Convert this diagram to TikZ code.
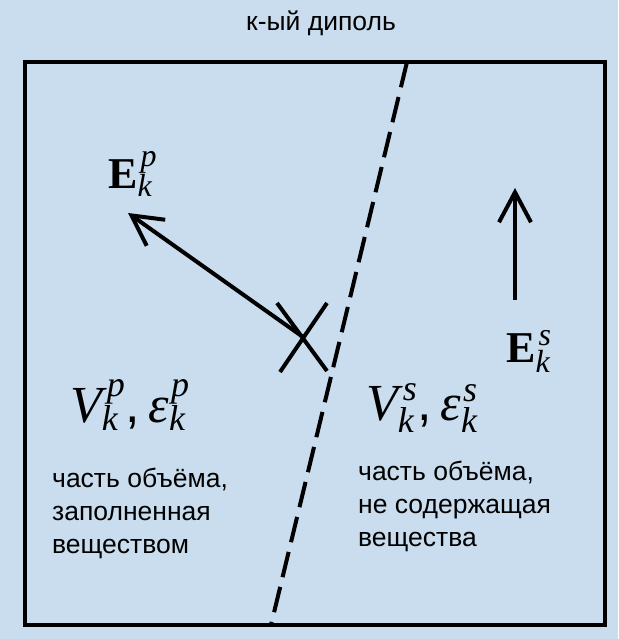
\RequirePackage{fix-cm}
\documentclass[tikz,border=0pt]{standalone}
\usepackage[no-math]{fontspec}
\setmainfont{Liberation Sans}
\newfontfamily\mserif{Liberation Serif}
\newcommand\mvar[1]{\mbox{\mserif\itshape #1}}
\newcommand\mscr[1]{\mbox{\mserif\itshape\fontsize{36}{36}\selectfont #1}}
\newcommand\mvec[1]{\mbox{\mserif\bfseries #1}}
\newcommand\mscrE[1]{\mbox{\mserif\itshape\fontsize{32}{32}\selectfont #1}}
\usetikzlibrary{arrows.meta}
\definecolor{bgblue}{RGB}{201,221,238}
\tikzset{
  frame/.style={line width=4pt, line join=miter},
  divider/.style={line width=4pt, dash pattern=on 26pt off 10pt},
  vec/.style={line width=4pt, -{Straight Barb[length=30pt,width=32pt]}},
  cross/.style={line width=4pt},
  caption/.style={inner sep=0pt, align=left, anchor=north west, font=\fontsize{26.5}{33}\selectfont},
  mathlbl/.style={inner sep=0pt, anchor=base west, font=\fontsize{52}{56}\selectfont},
  vlbl/.style={inner sep=0pt, anchor=base west, font=\fontsize{44}{46}\selectfont}
}
\tikzset{titlelbl/.style={inner sep=0pt, font=\fontsize{26.5}{30}\selectfont}}
\begin{document}
\begin{tikzpicture}[x=1pt,y=-1pt]
\fill[bgblue] (0,0) rectangle (618,639);
\useasboundingbox (0,0) rectangle (618,639);
\node[titlelbl] (title) at (321,23) {к-ый диполь};
\draw[frame] (25,62) rectangle (605,625);
\coordinate (dtop) at (407,62);
\coordinate (dbot) at (271,625);
\draw[divider] (dtop) -- (dbot);
% cross and vector E^p
\coordinate (xa) at (277,303);
\coordinate (xb) at (327,371);
\coordinate (xc) at (327,303);
\coordinate (xd) at (280,372);
\draw[cross] (xa) -- (xb);
\draw[cross] (xc) -- (xd);
\coordinate (origin) at (303,337);
\coordinate (tipP) at (128,213);
\draw[vec] (origin) -- (tipP);
% vector E^s
\coordinate (tailS) at (515,300);
\coordinate (tipS) at (515,188);
\draw[vec] (tailS) -- (tipS);
% labels
\node[vlbl] (Ep) at (108,188) {$\mvec{E}_{\mscrE{k}}^{\kern3pt\mscrE{p}}$};
\node[vlbl] (Es) at (506,362) {$\mvec{E}_{\mscrE{k}}^{\kern3pt\mscrE{s}}$};
\node[mathlbl] (Vp) at (70,422) {$\mvar{V}_{\mscr{k}}^{\kern5pt\mscr{p}}\mbox{,}\,\mvar{ε}_{\mscr{k}}^{\kern2pt\mscr{p}}$};
\node[mathlbl] (Vs) at (366,420) {$\mvar{V}_{\mscr{k}}^{\kern5pt\mscr{s}}\mbox{,}\,\mvar{ε}_{\mscr{k}}^{\kern2pt\mscr{s}}$};
\node[caption] (tp) at (52,468) {часть объёма,\\заполненная\\веществом};
\node[caption] (ts) at (358,461) {часть объёма,\\не содержащая\\вещества};
\end{tikzpicture}
\end{document}
